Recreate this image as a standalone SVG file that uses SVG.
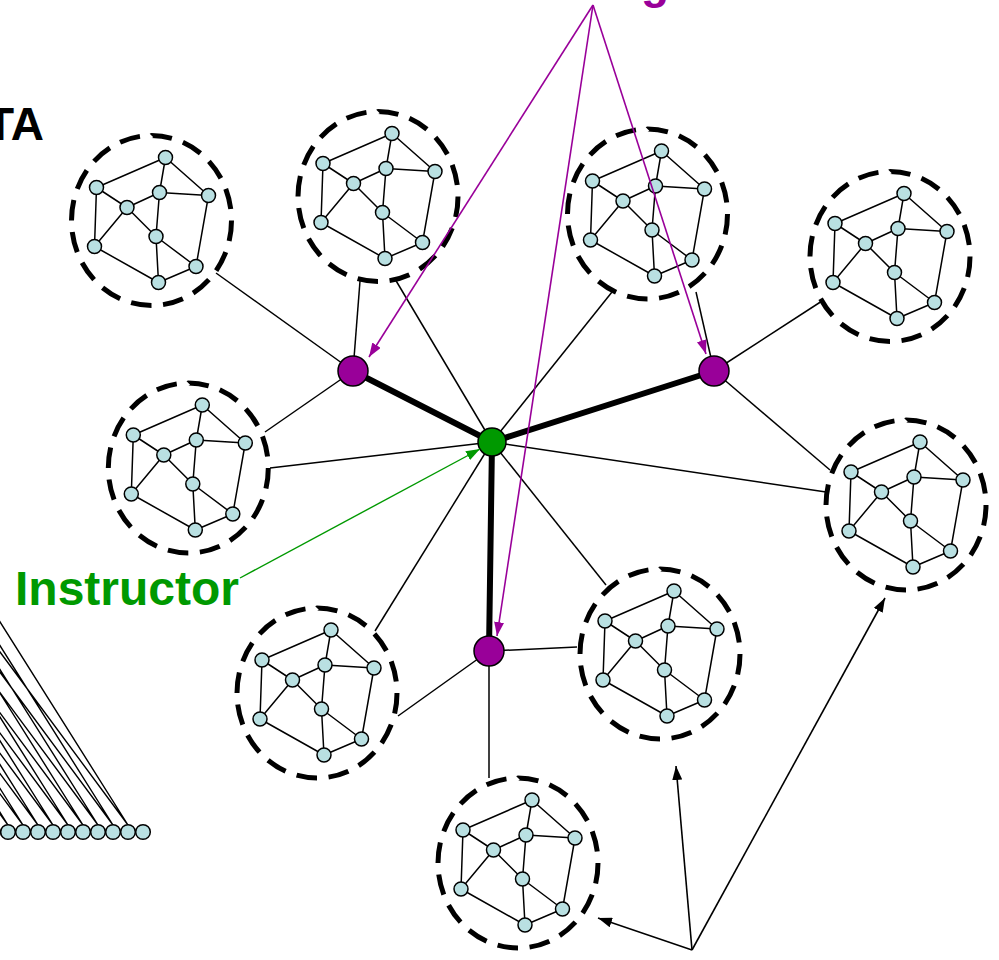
<svg xmlns="http://www.w3.org/2000/svg" xmlns:xlink="http://www.w3.org/1999/xlink" width="999" height="960" viewBox="0 0 999 960">
  <style>
    .edge { stroke: #000; stroke-width: 1.5; fill: none; }
    .vtx { fill: #b9e0e2; stroke: #000; stroke-width: 1.5; }
    .ring { fill: none; stroke: #000; stroke-width: 5; stroke-dasharray: 4 2.25; }
    .link { stroke: #000; stroke-width: 1.5; fill: none; }
    .trunk { stroke: #000; stroke-width: 6; fill: none; stroke-linecap: round; }
    .ptr-purple { stroke: #990099; stroke-width: 1.6; fill: none; }
    .ptr-green { stroke: #009900; stroke-width: 1.4; fill: none; }
    .ptr-black { stroke: #000; stroke-width: 1.6; fill: none; }
    .label { font-family: "Liberation Sans", Arial, sans-serif; font-weight: bold; }
    .fan { stroke: #000; stroke-width: 1.4; fill: none; }
  </style>
  <defs>
    <marker id="head-purple" viewBox="0 0 14 10" refX="14" refY="5" markerWidth="14" markerHeight="10" markerUnits="userSpaceOnUse" orient="auto">
      <path d="M0,0 L14,5 L0,10 Z" fill="#990099"/>
    </marker>
    <marker id="head-green" viewBox="0 0 14 10" refX="14" refY="5" markerWidth="14" markerHeight="10" markerUnits="userSpaceOnUse" orient="auto">
      <path d="M0,0 L14,5 L0,10 Z" fill="#009900"/>
    </marker>
    <marker id="head-black" viewBox="0 0 14 10" refX="14" refY="5" markerWidth="14" markerHeight="10" markerUnits="userSpaceOnUse" orient="auto">
      <path d="M0,0 L14,5 L0,10 Z" fill="#000"/>
    </marker>
    <!-- one team: nine members inside a dashed boundary -->
    <g id="team">
      <path class="edge" d="M14,-63L-55,-33 M14,-63L8,-28 M14,-63L57,-25 M-55,-33L-24.5,-13 M-55,-33L-57,26 M8,-28L-24.5,-13 M8,-28L57,-25 M8,-28L4.5,16 M-24.5,-13L4.5,16 M-24.5,-13L-57,26 M4.5,16L44.5,46 M4.5,16L7,62 M57,-25L44.5,46 M-57,26L7,62 M44.5,46L7,62"/>
      <ellipse class="ring" cx="0" cy="0" rx="80" ry="85" pathLength="100"/>
      <circle class="vtx" cx="14" cy="-63" r="7"/>
      <circle class="vtx" cx="-55" cy="-33" r="7"/>
      <circle class="vtx" cx="8" cy="-28" r="7"/>
      <circle class="vtx" cx="57" cy="-25" r="7"/>
      <circle class="vtx" cx="-24.5" cy="-13" r="7"/>
      <circle class="vtx" cx="4.5" cy="16" r="7"/>
      <circle class="vtx" cx="-57" cy="26" r="7"/>
      <circle class="vtx" cx="44.5" cy="46" r="7"/>
      <circle class="vtx" cx="7" cy="62" r="7"/>
    </g>
  </defs>

  <rect width="999" height="960" fill="#fff"/>

  <!-- partial hierarchy at the left edge -->
  <g id="hierarchy">
    <path class="fan" d="M-7,825 l-252,-400 M-7,825 l-296,-400 M8,825 l-252,-400 M8,825 l-296,-400 M23,825 l-252,-400 M23,825 l-296,-400 M38,825 l-252,-400 M38,825 l-296,-400 M53,825 l-252,-400 M53,825 l-296,-400 M68,825 l-252,-400 M68,825 l-296,-400 M83,825 l-252,-400 M83,825 l-296,-400 M98,825 l-252,-400 M98,825 l-296,-400 M113,825 l-252,-400 M113,825 l-296,-400 M128,825 l-252,-400 M128,825 l-296,-400"/>
    <circle class="vtx" cx="-7" cy="832" r="7.3"/>
    <circle class="vtx" cx="8" cy="832" r="7.3"/>
    <circle class="vtx" cx="23" cy="832" r="7.3"/>
    <circle class="vtx" cx="38" cy="832" r="7.3"/>
    <circle class="vtx" cx="53" cy="832" r="7.3"/>
    <circle class="vtx" cx="68" cy="832" r="7.3"/>
    <circle class="vtx" cx="83" cy="832" r="7.3"/>
    <circle class="vtx" cx="98" cy="832" r="7.3"/>
    <circle class="vtx" cx="113" cy="832" r="7.3"/>
    <circle class="vtx" cx="128" cy="832" r="7.3"/>
    <circle class="vtx" cx="143" cy="832" r="7.3"/>
  </g>

  <!-- connectors -->
  <g id="connectors">
    <path class="link" d="M353,371 L216,273"/>
    <path class="link" d="M353,371 L360,281"/>
    <path class="link" d="M353,371 L265,432"/>
    <path class="link" d="M492,442 L395,279"/>
    <path class="link" d="M492,442 L612,292"/>
    <path class="link" d="M714,371 L696,292"/>
    <path class="link" d="M714,371 L822,301"/>
    <path class="link" d="M714,371 L830,470"/>
    <path class="link" d="M492,442 L270,468"/>
    <path class="link" d="M492,442 L826,492"/>
    <path class="link" d="M492,442 L375,631"/>
    <path class="link" d="M492,442 L606,585"/>
    <path class="link" d="M489,651 L577,647"/>
    <path class="link" d="M489,651 L398,716"/>
    <path class="link" d="M489,651 L489,778"/>
    <path class="trunk" d="M492,442 L353,371"/>
    <path class="trunk" d="M492,442 L714,371"/>
    <path class="trunk" d="M492,442 L489,651"/>
  </g>

  <!-- teams -->
  <g id="team-1"><use xlink:href="#team" transform="translate(151.5,220.5)"/></g>
  <g id="team-2"><use xlink:href="#team" transform="translate(378,196.5)"/></g>
  <g id="team-3"><use xlink:href="#team" transform="translate(647.5,214)"/></g>
  <g id="team-4"><use xlink:href="#team" transform="translate(890,256.5)"/></g>
  <g id="team-5"><use xlink:href="#team" transform="translate(188.3,468)"/></g>
  <g id="team-6"><use xlink:href="#team" transform="translate(906,505)"/></g>
  <g id="team-7"><use xlink:href="#team" transform="translate(317,693)"/></g>
  <g id="team-8"><use xlink:href="#team" transform="translate(660,654)"/></g>
  <g id="team-9"><use xlink:href="#team" transform="translate(518,863)"/></g>

  <!-- hub nodes -->
  <g id="ta-1"><circle cx="353" cy="371" r="15" fill="#990099" stroke="#000" stroke-width="1.5"/></g>
  <g id="ta-2"><circle cx="714" cy="371" r="15" fill="#990099" stroke="#000" stroke-width="1.5"/></g>
  <g id="ta-3"><circle cx="489" cy="651" r="15" fill="#990099" stroke="#000" stroke-width="1.5"/></g>
  <g id="instructor"><circle cx="492" cy="442" r="14" fill="#009900" stroke="#000" stroke-width="1.5"/></g>

  <!-- callout pointers -->
  <g id="pointers">
    <path class="ptr-purple" d="M593,5 L369,357" marker-end="url(#head-purple)"/>
    <path class="ptr-purple" d="M593,5 L497,636" marker-end="url(#head-purple)"/>
    <path class="ptr-purple" d="M593,5 L706,354" marker-end="url(#head-purple)"/>
    <path class="ptr-green" d="M240,578 L480,449" marker-end="url(#head-green)"/>
    <path class="ptr-black" d="M692,950 L598,918" marker-end="url(#head-black)"/>
    <path class="ptr-black" d="M692,950 L676,766" marker-end="url(#head-black)"/>
    <path class="ptr-black" d="M692,950 L885,598" marker-end="url(#head-black)"/>
  </g>

  <!-- labels -->
  <text class="label" x="44" y="140" font-size="46" fill="#000" text-anchor="end">TA</text>
  <text class="label" x="641" y="-2" font-size="46" fill="#990099">g</text>
  <text class="label" x="15" y="605" font-size="48" fill="#009900">Instructor</text>
</svg>
